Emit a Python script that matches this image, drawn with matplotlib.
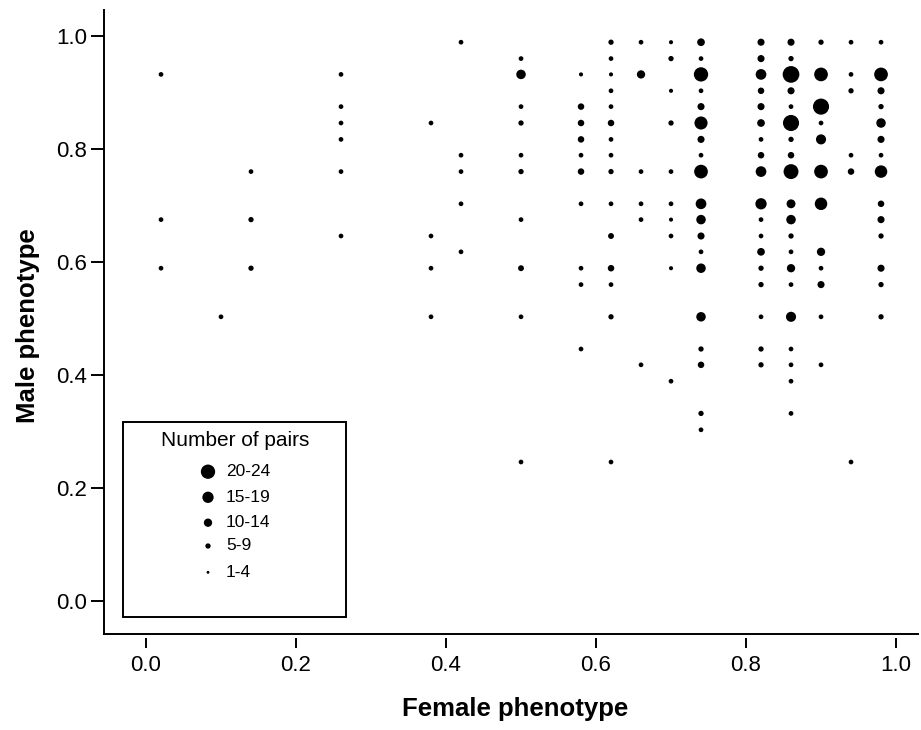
import matplotlib
matplotlib.use("Agg")
import matplotlib.pyplot as plt
from matplotlib.patches import Rectangle
import numpy as np

plt.rcParams['font.family'] = ['Liberation Sans', 'DejaVu Sans']

# ---- data: female phenotype, male phenotype, number of pairs (estimated) ----
female = (
    [0.02] * 3 + [0.10] * 1 + [0.14] * 3 + [0.26] * 6 + [0.38] * 4 + [0.42] * 5 +
    [0.50] * 10 + [0.58] * 10 + [0.62] * 15 + [0.66] * 6 + [0.70] * 10 +
    [0.74] * 19 + [0.82] * 18 + [0.86] * 20 + [0.90] * 12 + [0.94] * 6 + [0.98] * 14
)
male = [
    0.932, 0.675, 0.589,
    0.503,
    0.760, 0.675, 0.589,
    0.932, 0.875, 0.846, 0.817, 0.760, 0.646,
    0.846, 0.646, 0.589, 0.503,
    0.989, 0.789, 0.760, 0.703, 0.618,
    0.960, 0.932, 0.875, 0.846, 0.789, 0.760, 0.675, 0.589, 0.503, 0.246,
    0.932, 0.875, 0.846, 0.817, 0.789, 0.760, 0.703, 0.589, 0.560, 0.446,
    0.989, 0.960, 0.932, 0.903, 0.875, 0.846, 0.817, 0.789, 0.760, 0.703, 0.646, 0.589, 0.560, 0.503, 0.246,
    0.989, 0.932, 0.760, 0.703, 0.675, 0.418,
    0.989, 0.960, 0.903, 0.846, 0.760, 0.703, 0.675, 0.646, 0.589, 0.389,
    0.989, 0.960, 0.932, 0.903, 0.875, 0.846, 0.817, 0.789, 0.760, 0.703, 0.675, 0.646, 0.618, 0.589, 0.503, 0.446, 0.418, 0.332, 0.303,
    0.989, 0.960, 0.932, 0.903, 0.875, 0.846, 0.817, 0.789, 0.760, 0.703, 0.675, 0.646, 0.618, 0.589, 0.560, 0.503, 0.446, 0.418,
    0.989, 0.960, 0.932, 0.903, 0.875, 0.846, 0.817, 0.789, 0.760, 0.703, 0.675, 0.646, 0.618, 0.589, 0.560, 0.503, 0.446, 0.418, 0.389, 0.332,
    0.989, 0.932, 0.875, 0.846, 0.817, 0.760, 0.703, 0.618, 0.589, 0.560, 0.503, 0.418,
    0.989, 0.932, 0.903, 0.789, 0.760, 0.246,
    0.989, 0.932, 0.903, 0.875, 0.846, 0.817, 0.789, 0.760, 0.703, 0.675, 0.646, 0.589, 0.560, 0.503,
]
pairs = [
    4, 4, 4,
    4,
    4, 5, 5,
    4, 4, 4, 4, 4, 4,
    4, 4, 4, 4,
    4, 4, 4, 4, 4,
    4, 12, 4, 5, 4, 5, 4, 6, 4, 4,
    3, 7, 7, 7, 4, 7, 4, 4, 4, 4,
    5, 4, 3, 4, 4, 7, 4, 4, 5, 4, 6, 7, 4, 5, 4,
    4, 10, 4, 4, 4, 4,
    3, 5, 3, 5, 4, 4, 3, 4, 3, 4,
    9, 4, 20, 4, 8, 18, 8, 4, 19, 14, 12, 8, 4, 12, 12, 5, 7, 5, 4,
    8, 8, 14, 7, 8, 9, 4, 7, 14, 15, 4, 4, 9, 5, 5, 4, 5, 5,
    8, 5, 24, 8, 4, 23, 5, 7, 21, 11, 12, 5, 4, 10, 4, 13, 4, 4, 4, 4,
    5, 19, 23, 4, 13, 19, 17, 10, 4, 8, 4, 4,
    4, 4, 5, 4, 7, 4,
    4, 19, 8, 5, 12, 8, 4, 17, 7, 8, 5, 8, 5, 5,
]

x_ticks = [0.0, 0.2, 0.4, 0.6, 0.8, 1.0]
y_ticks = [0.0, 0.2, 0.4, 0.6, 0.8, 1.0]
legend_labels = ["20-24", "15-19", "10-14", "5-9", "1-4"]
legend_counts = [20, 15, 10, 5, 1]

# ---- figure ----
W, H, DPI = 921, 730, 100
fig = plt.figure(figsize=(W / DPI, H / DPI), dpi=DPI)
L, R, T, B = 104, 918, 10, 634
ax = fig.add_axes([L / W, 1 - B / H, (R - L) / W, (B - T) / H])


def area(c):
    d_px = 2.3 + 0.6 * np.asarray(c, dtype=float)
    return (d_px * 72.0 / DPI) ** 2


ax.scatter(female, male, s=area(pairs), c='black', linewidths=0, zorder=3)
ax.set_xlim(-0.056, 1.0293)
ax.set_ylim(-0.0584, 1.046)

lw = 1.4
ax.spines['top'].set_visible(False)
ax.spines['right'].set_visible(False)
ax.spines['left'].set_linewidth(lw)
ax.spines['bottom'].set_position(('outward', 2.9))
ax.spines['bottom'].set_visible(False)
ax.plot([0, 1], [0, 0], transform=ax.transAxes, color='black', lw=lw,
        clip_on=False, solid_capstyle='projecting')

ax.set_xticks(x_ticks)
ax.set_xticklabels([f"{v:.1f}" for v in x_ticks])
ax.set_yticks(y_ticks)
ax.set_yticklabels([f"{v:.1f}" for v in y_ticks])
ax.tick_params(axis='y', direction='out', length=9.4, width=lw, labelsize=16, pad=3)
ax.tick_params(axis='x', direction='out', length=7.2, width=lw, labelsize=16, pad=5)

ax.set_xlabel("Female phenotype", fontsize=18.5, fontweight='bold')
ax.xaxis.set_label_coords((515 - L) / (R - L), (B - 709) / (B - T))
ax.xaxis.label.set_va('center')
ax.set_ylabel("Male phenotype", fontsize=18.5, fontweight='bold')
ax.yaxis.set_label_coords((28 - L) / (R - L), (B - 326) / (B - T))
ax.yaxis.label.set_va('center')

# ---- legend ----
bx0, by0, bx1, by1 = 123, 422, 346, 617
fig.add_artist(Rectangle((bx0 / W, 1 - by1 / H), (bx1 - bx0) / W, (by1 - by0) / H,
                         transform=fig.transFigure, fill=False, lw=lw, ec='black'))
fig.text(235 / W, 1 - 441 / H, "Number of pairs", ha='center', va='center', fontsize=15)
rows_y = [471.7, 497.3, 522.7, 546.0, 572.3]
ax.scatter([208 / W] * len(rows_y), [1 - y / H for y in rows_y], s=area(legend_counts),
           c='black', linewidths=0, transform=fig.transFigure, clip_on=False)
for lab, y in zip(legend_labels, rows_y):
    fig.text(226 / W, 1 - y / H, lab, ha='left', va='center', fontsize=12.5)

fig.savefig("out.png", dpi=DPI)
